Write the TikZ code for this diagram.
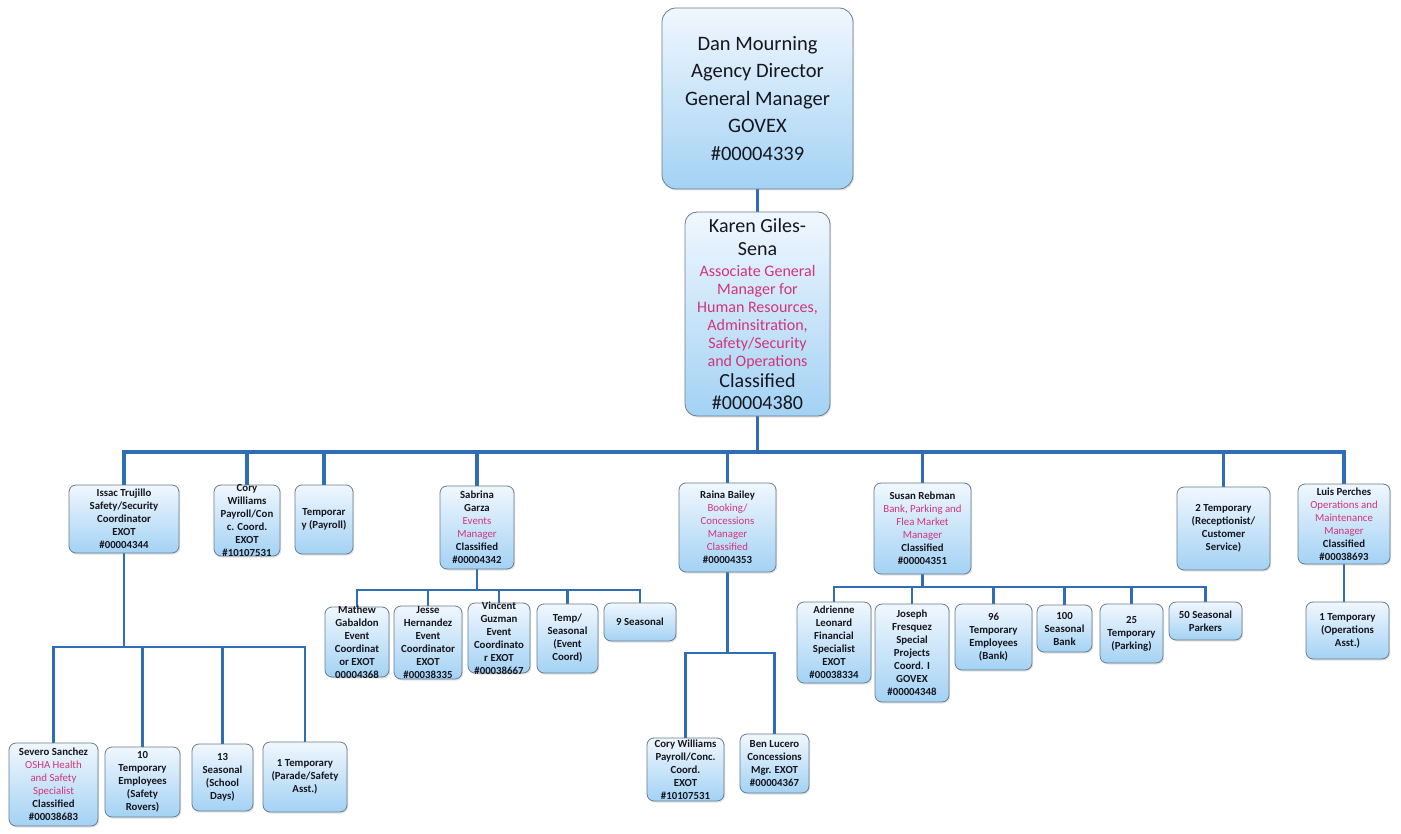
\documentclass[tikz,border=0pt]{standalone}
\usepackage{fontspec}
\setmainfont{Carlito}
\usetikzlibrary{shadows,backgrounds}
\definecolor{boxtop}{HTML}{F0F7FE}
\definecolor{boxbot}{HTML}{A3D2F4}
\definecolor{boxline}{HTML}{6A7C8E}
\definecolor{connc}{HTML}{2F6EB7}
\definecolor{pinkc}{HTML}{D0357A}
\definecolor{txt}{HTML}{16161E}
\newcommand\pnk[1]{\textcolor{pinkc}{\mdseries #1}}
\newcommand\kf{\fontsize{20}{23}\selectfont}
\begin{document}
\begin{tikzpicture}[x=1pt,y=-1pt,
  orgbox/.style={draw=boxline, line width=0.8pt, top color=boxtop, bottom color=boxbot,
    rounded corners=7pt, align=center, inner sep=1pt, text=txt,
    drop shadow={opacity=0.22, shadow xshift=1.2pt, shadow yshift=-1.5pt},
    font=\fontsize{10.8}{13}\selectfont\bfseries},
  bigbox/.style={orgbox, rounded corners=14pt, font=\fontsize{20.5}{27.5}\selectfont},
  kbox/.style={orgbox, rounded corners=12pt, font=\fontsize{16}{18}\selectfont},
  connline/.style={draw=connc, line width=2.5pt},
  mainline/.style={draw=connc, line width=3.2pt},
]
\useasboundingbox (0,0) rectangle (1401,834);

% top levels
\node[bigbox, minimum width=191pt, minimum height=181pt] (dan) at (757.5,98.5)
  {Dan Mourning\\Agency Director\\General Manager\\GOVEX\\\#00004339};
\node[kbox, minimum width=145pt, minimum height=204pt] (karen) at (757.5,314)
  {\kf Karen Giles-\\[5pt]\kf Sena\\[3pt]\pnk{Associate General}\\\pnk{Manager for}\\\pnk{Human Resources,}\\\pnk{Adminsitration,}\\\pnk{Safety/Security}\\\pnk{and Operations}\\[3pt]\kf Classified\\[4pt]\kf \#00004380};

% level 2
\node[orgbox, minimum width=110pt, minimum height=68pt] (issac) at (124,519)
  {Issac Trujillo\\Safety/Security\\Coordinator\\EXOT\\\#00004344};
\node[orgbox, minimum width=66pt, minimum height=71pt, inner ysep=-3pt] (cory) at (247,520.5)
  {Cory\\Williams\\Payroll/Con\\c. Coord.\\EXOT\\\#10107531};
\node[orgbox, minimum width=58pt, minimum height=69pt] (tpay) at (324,519.5)
  {Temporar\\y (Payroll)};
\node[orgbox, minimum width=74pt, minimum height=83pt] (sabrina) at (477,527.5)
  {Sabrina\\Garza\\\pnk{Events}\\\pnk{Manager}\\Classified\\\#00004342};
\node[orgbox, minimum width=97pt, minimum height=89pt] (raina) at (727.5,527.5)
  {Raina Bailey\\\pnk{Booking/}\\\pnk{Concessions}\\\pnk{Manager}\\\pnk{Classified}\\\#00004353};
\node[orgbox, minimum width=97pt, minimum height=91pt] (susan) at (922.5,528.5)
  {Susan Rebman\\\pnk{Bank, Parking and}\\\pnk{Flea Market}\\\pnk{Manager}\\Classified\\\#00004351};
\node[orgbox, minimum width=93pt, minimum height=83pt] (twotemp) at (1223.5,528.5)
  {2 Temporary\\(Receptionist/\\Customer\\Service)};
\node[orgbox, minimum width=92pt, minimum height=80pt] (luis) at (1344,524)
  {Luis Perches\\\pnk{Operations and}\\\pnk{Maintenance}\\\pnk{Manager}\\Classified\\\#00038693};

% Sabrina's reports
\node[orgbox, minimum width=64pt, minimum height=70pt, inner ysep=-3pt] (mathew) at (357,642)
  {Mathew\\Gabaldon\\Event\\Coordinat\\or EXOT\\00004368};
\node[orgbox, minimum width=68pt, minimum height=73pt, inner ysep=-2pt] (jesse) at (428,642.5)
  {Jesse\\Hernandez\\Event\\Coordinator\\EXOT\\\#00038335};
\node[orgbox, minimum width=62pt, minimum height=70pt, inner ysep=-3pt] (vincent) at (499,638)
  {Vincent\\Guzman\\Event\\Coordinato\\r EXOT\\\#00038667};
\node[orgbox, minimum width=61pt, minimum height=69pt] (tempseas) at (567.5,638.5)
  {Temp/\\Seasonal\\(Event\\Coord)};
\node[orgbox, minimum width=72pt, minimum height=38pt] (nine) at (640,622)
  {9 Seasonal};

% Susan's reports
\node[orgbox, minimum width=74pt, minimum height=81pt] (adrienne) at (834,642.5)
  {Adrienne\\Leonard\\Financial\\Specialist\\EXOT\\\#00038334};
\node[orgbox, minimum width=74pt, minimum height=98pt] (joseph) at (912,653)
  {Joseph\\Fresquez\\Special\\Projects\\Coord. I\\GOVEX\\\#00004348};
\node[orgbox, minimum width=77pt, minimum height=66pt] (ninetysix) at (993.5,637)
  {96\\Temporary\\Employees\\(Bank)};
\node[orgbox, minimum width=55pt, minimum height=47pt] (hundred) at (1064.5,628.5)
  {100\\Seasonal\\Bank};
\node[orgbox, minimum width=63pt, minimum height=59pt] (twentyfive) at (1131.5,633.5)
  {25\\Temporary\\(Parking)};
\node[orgbox, minimum width=73pt, minimum height=38pt] (fifty) at (1205.5,621)
  {50 Seasonal\\Parkers};

% Luis's report
\node[orgbox, minimum width=83pt, minimum height=57pt] (opstemp) at (1347.5,630.5)
  {1 Temporary\\(Operations\\Asst.)};

% Issac's reports
\node[orgbox, minimum width=89pt, minimum height=83pt] (severo) at (53.5,784.5)
  {Severo Sanchez\\\pnk{OSHA Health}\\\pnk{and Safety}\\\pnk{Specialist}\\Classified\\\#00038683};
\node[orgbox, minimum width=75pt, minimum height=70pt] (tenemp) at (142.5,782)
  {10\\Temporary\\Employees\\(Safety\\Rovers)};
\node[orgbox, minimum width=61pt, minimum height=67pt] (thirteen) at (222.5,777.5)
  {13\\Seasonal\\(School\\Days)};
\node[orgbox, minimum width=84pt, minimum height=70pt] (onetemp) at (305,777)
  {1 Temporary\\(Parade/Safety\\Asst.)};

% Raina's reports
\node[orgbox, minimum width=77pt, minimum height=63pt] (cory2) at (685.5,769.5)
  {Cory Williams\\Payroll/Conc.\\Coord.\\EXOT\\\#10107531};
\node[orgbox, minimum width=69pt, minimum height=59pt] (ben) at (774.5,763.5)
  {Ben Lucero\\Concessions\\Mgr. EXOT\\\#00004367};

\coordinate (kbus) at (757.5,452);
\coordinate (sbus) at (477,590);
\coordinate (subus) at (922.5,587);
\coordinate (ibus) at (124,647);
\coordinate (rbus) at (727.5,653);

\begin{scope}[on background layer]
\fill[white] (0,0) rectangle (1401,834);
\draw[mainline] (dan.south) -- (karen.north);
\draw[mainline] (karen.south) -- (kbus);
\foreach \n in {issac,cory,tpay,sabrina,raina,susan,twotemp,luis}
  \draw[mainline] (kbus) -| (\n.north);
\draw[connline] (sabrina.south) -- (sbus);
\foreach \n in {mathew,jesse,vincent,tempseas,nine}
  \draw[connline] (sbus) -| (\n.north);
\draw[connline] (susan.south) -- (subus);
\foreach \n in {adrienne,joseph,ninetysix,hundred,twentyfive,fifty}
  \draw[connline] (subus) -| (\n.north);
\draw[connline] (issac.south) -- (ibus);
\foreach \n in {severo,tenemp,thirteen,onetemp}
  \draw[connline] (ibus) -| (\n.north);
\draw[connline] (raina.south) -- (rbus);
\foreach \n in {cory2,ben}
  \draw[connline] (rbus) -| (\n.north);
\draw[connline] (luis.south) -- (luis.south |- opstemp.north);
\end{scope}
\end{tikzpicture}
\end{document}
